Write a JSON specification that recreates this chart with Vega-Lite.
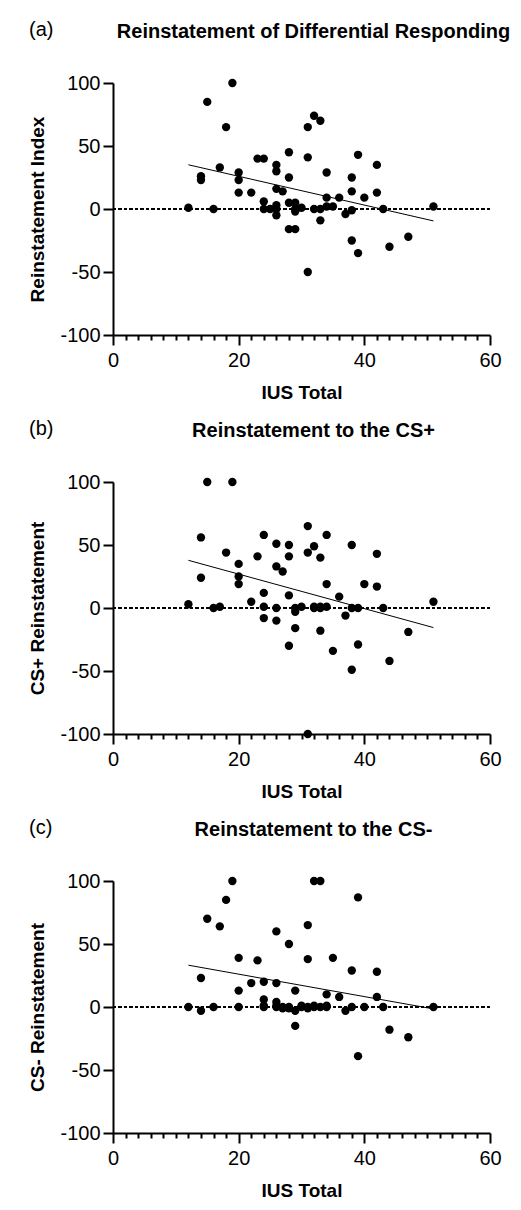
{
  "$schema": "https://vega.github.io/schema/vega-lite/v6.json",
  "padding": {"left": 28, "top": 20, "right": 5, "bottom": 5},
  "background": "white",
  "datasets": {
    "a": [
      {"x":12,"y":1},{"x":14,"y":26},{"x":14,"y":23},{"x":15,"y":85},{"x":16,"y":0},{"x":17,"y":33},{"x":18,"y":65},{"x":19,"y":100},{"x":20,"y":29},{"x":20,"y":23},{"x":20,"y":13},{"x":22,"y":13},{"x":23,"y":40},{"x":24,"y":40},{"x":24,"y":6},{"x":24,"y":0},{"x":26,"y":35},{"x":26,"y":30},{"x":26,"y":16},{"x":26,"y":3},{"x":26,"y":0},{"x":26,"y":-5},{"x":27,"y":14},{"x":28,"y":45},{"x":28,"y":25},{"x":28,"y":5},{"x":28,"y":-16},{"x":29,"y":5},{"x":29,"y":0},{"x":29,"y":-2},{"x":29,"y":-16},{"x":30,"y":1},{"x":31,"y":65},{"x":31,"y":41},{"x":31,"y":-50},{"x":32,"y":74},{"x":32,"y":0},{"x":33,"y":70},{"x":33,"y":0},{"x":33,"y":-9},{"x":34,"y":29},{"x":34,"y":9},{"x":34,"y":2},{"x":35,"y":2},{"x":36,"y":9},{"x":37,"y":-4},{"x":38,"y":25},{"x":38,"y":14},{"x":38,"y":-1},{"x":38,"y":-25},{"x":39,"y":43},{"x":39,"y":-35},{"x":40,"y":9},{"x":42,"y":35},{"x":42,"y":13},{"x":43,"y":0},{"x":44,"y":-30},{"x":47,"y":-22},{"x":51,"y":2},{"x":25,"y":0}
    ],
    "b": [
      {"x":12,"y":3},{"x":14,"y":56},{"x":14,"y":24},{"x":15,"y":100},{"x":16,"y":0},{"x":17,"y":1},{"x":18,"y":44},{"x":19,"y":100},{"x":20,"y":35},{"x":20,"y":25},{"x":20,"y":19},{"x":22,"y":5},{"x":23,"y":41},{"x":24,"y":58},{"x":24,"y":12},{"x":24,"y":1},{"x":24,"y":-8},{"x":26,"y":51},{"x":26,"y":33},{"x":26,"y":0},{"x":26,"y":-10},{"x":27,"y":29},{"x":28,"y":50},{"x":28,"y":41},{"x":28,"y":10},{"x":28,"y":-30},{"x":29,"y":0},{"x":29,"y":-3},{"x":29,"y":-16},{"x":30,"y":1},{"x":31,"y":65},{"x":31,"y":44},{"x":31,"y":-100},{"x":32,"y":49},{"x":32,"y":0},{"x":33,"y":40},{"x":33,"y":0},{"x":33,"y":-18},{"x":34,"y":58},{"x":34,"y":19},{"x":34,"y":1},{"x":35,"y":-34},{"x":36,"y":9},{"x":37,"y":-6},{"x":38,"y":50},{"x":38,"y":0},{"x":38,"y":-49},{"x":39,"y":0},{"x":39,"y":-29},{"x":40,"y":19},{"x":42,"y":43},{"x":42,"y":17},{"x":43,"y":0},{"x":44,"y":-42},{"x":47,"y":-19},{"x":51,"y":5},{"x":32,"y":1},{"x":33,"y":1}
    ],
    "c": [
      {"x":12,"y":0},{"x":14,"y":23},{"x":14,"y":-3},{"x":15,"y":70},{"x":16,"y":0},{"x":17,"y":64},{"x":18,"y":85},{"x":19,"y":100},{"x":20,"y":39},{"x":20,"y":13},{"x":20,"y":0},{"x":22,"y":19},{"x":23,"y":37},{"x":24,"y":20},{"x":24,"y":6},{"x":24,"y":0},{"x":26,"y":60},{"x":26,"y":19},{"x":26,"y":4},{"x":26,"y":0},{"x":27,"y":0},{"x":28,"y":50},{"x":28,"y":-1},{"x":29,"y":13},{"x":29,"y":-3},{"x":29,"y":-15},{"x":30,"y":1},{"x":31,"y":65},{"x":31,"y":38},{"x":31,"y":0},{"x":32,"y":100},{"x":32,"y":0},{"x":33,"y":100},{"x":33,"y":0},{"x":34,"y":10},{"x":34,"y":0},{"x":35,"y":39},{"x":36,"y":8},{"x":37,"y":-3},{"x":38,"y":29},{"x":38,"y":0},{"x":39,"y":87},{"x":39,"y":-39},{"x":40,"y":0},{"x":42,"y":28},{"x":42,"y":8},{"x":43,"y":0},{"x":44,"y":-18},{"x":47,"y":-24},{"x":51,"y":0},
      {"x":24,"y":1},{"x":26,"y":1},{"x":27,"y":-1},{"x":28,"y":0},{"x":30,"y":0},{"x":31,"y":-1},{"x":32,"y":1},{"x":34,"y":1}
    ]
  },
  "spacing": 17,
  "vconcat": [
    {
      "title": {"text": "(a)", "anchor": "start", "fontWeight": "normal", "dy": 22},
      "vconcat": [{
        "title": {"text": "Reinstatement of Differential Responding", "dx": 12, "offset": 31},
        "width": 377, "height": 252,
        "data": {"name": "a"},
        "resolve": {"scale": {"x": "independent"}, "axis": {"x": "independent"}},
        "layer": [
          {"mark": {"type": "rule", "strokeDash": [3, 2.5], "strokeWidth": 2, "color": "black"}, "encoding": {"y": {"datum": 0, "type": "quantitative"}}},
          {"mark": {"type": "circle", "size": 70, "opacity": 1, "color": "black"},
           "encoding": {
             "x": {"field": "x", "type": "quantitative", "scale": {"domain": [0, 60], "nice": false},
                   "axis": {"title": "IUS Total", "orient": "bottom", "values": [0, 20, 40, 60], "tickSize": 10}},
             "y": {"field": "y", "type": "quantitative", "scale": {"domain": [-100, 100], "nice": false},
                   "axis": {"title": "Reinstatement Index", "values": [-100, -50, 0, 50, 100], "labelExpr": "toString(datum.value)", "tickSize": 10}}
           }},
          {"transform": [{"regression": "y", "on": "x"}], "mark": {"type": "line", "strokeWidth": 1, "color": "black"},
           "encoding": {
             "x": {"field": "x", "type": "quantitative", "scale": {"domain": [0, 60], "nice": false},
                   "axis": {"title": null, "orient": "bottom", "labels": false, "domain": false, "tickSize": 5, "values": [2,4,6,8,10,12,14,16,18,22,24,26,28,30,32,34,36,38,42,44,46,48,50,52,54,56,58]}},
             "y": {"field": "y", "type": "quantitative"}}}
        ]
      }]
    },
    {
      "title": {"text": "(b)", "anchor": "start", "fontWeight": "normal", "dy": 22},
      "vconcat": [{
        "title": {"text": "Reinstatement to the CS+", "dx": 12, "offset": 31},
        "width": 377, "height": 252,
        "data": {"name": "b"},
        "resolve": {"scale": {"x": "independent"}, "axis": {"x": "independent"}},
        "layer": [
          {"mark": {"type": "rule", "strokeDash": [3, 2.5], "strokeWidth": 2, "color": "black"}, "encoding": {"y": {"datum": 0, "type": "quantitative"}}},
          {"mark": {"type": "circle", "size": 70, "opacity": 1, "color": "black"},
           "encoding": {
             "x": {"field": "x", "type": "quantitative", "scale": {"domain": [0, 60], "nice": false},
                   "axis": {"title": "IUS Total", "orient": "bottom", "values": [0, 20, 40, 60], "tickSize": 10}},
             "y": {"field": "y", "type": "quantitative", "scale": {"domain": [-100, 100], "nice": false},
                   "axis": {"title": "CS+ Reinstatement", "values": [-100, -50, 0, 50, 100], "labelExpr": "toString(datum.value)", "tickSize": 10}}
           }},
          {"transform": [{"regression": "y", "on": "x"}], "mark": {"type": "line", "strokeWidth": 1, "color": "black"},
           "encoding": {
             "x": {"field": "x", "type": "quantitative", "scale": {"domain": [0, 60], "nice": false},
                   "axis": {"title": null, "orient": "bottom", "labels": false, "domain": false, "tickSize": 5, "values": [2,4,6,8,10,12,14,16,18,22,24,26,28,30,32,34,36,38,42,44,46,48,50,52,54,56,58]}},
             "y": {"field": "y", "type": "quantitative"}}}
        ]
      }]
    },
    {
      "title": {"text": "(c)", "anchor": "start", "fontWeight": "normal", "dy": 22},
      "vconcat": [{
        "title": {"text": "Reinstatement to the CS-", "dx": 12, "offset": 31},
        "width": 377, "height": 252,
        "data": {"name": "c"},
        "resolve": {"scale": {"x": "independent"}, "axis": {"x": "independent"}},
        "layer": [
          {"mark": {"type": "rule", "strokeDash": [3, 2.5], "strokeWidth": 2, "color": "black"}, "encoding": {"y": {"datum": 0, "type": "quantitative"}}},
          {"mark": {"type": "circle", "size": 70, "opacity": 1, "color": "black"},
           "encoding": {
             "x": {"field": "x", "type": "quantitative", "scale": {"domain": [0, 60], "nice": false},
                   "axis": {"title": "IUS Total", "orient": "bottom", "values": [0, 20, 40, 60], "tickSize": 10}},
             "y": {"field": "y", "type": "quantitative", "scale": {"domain": [-100, 100], "nice": false},
                   "axis": {"title": "CS- Reinstatement", "values": [-100, -50, 0, 50, 100], "labelExpr": "toString(datum.value)", "tickSize": 10}}
           }},
          {"transform": [{"regression": "y", "on": "x"}], "mark": {"type": "line", "strokeWidth": 1, "color": "black"},
           "encoding": {
             "x": {"field": "x", "type": "quantitative", "scale": {"domain": [0, 60], "nice": false},
                   "axis": {"title": null, "orient": "bottom", "labels": false, "domain": false, "tickSize": 5, "values": [2,4,6,8,10,12,14,16,18,22,24,26,28,30,32,34,36,38,42,44,46,48,50,52,54,56,58]}},
             "y": {"field": "y", "type": "quantitative"}}}
        ]
      }]
    }
  ],
  "config": {
    "font": "Liberation Sans",
    "view": {"stroke": null},
    "title": {"font": "Liberation Sans", "fontSize": 20, "fontWeight": "bold", "color": "black"},
    "axis": {
      "grid": false,
      "domainColor": "black", "domainWidth": 2,
      "tickColor": "black", "tickWidth": 2,
      "labelFont": "Liberation Sans", "labelFontSize": 20, "labelColor": "black", "labelPadding": 5,
      "labelFlush": false, "labelOverlap": false,
      "titleFont": "Liberation Sans", "titleFontSize": 19, "titleFontWeight": "bold", "titleColor": "black", "titlePadding": 13
    },
    "axisY": {"labelPadding": 3, "titlePadding": 12}
  }
}
